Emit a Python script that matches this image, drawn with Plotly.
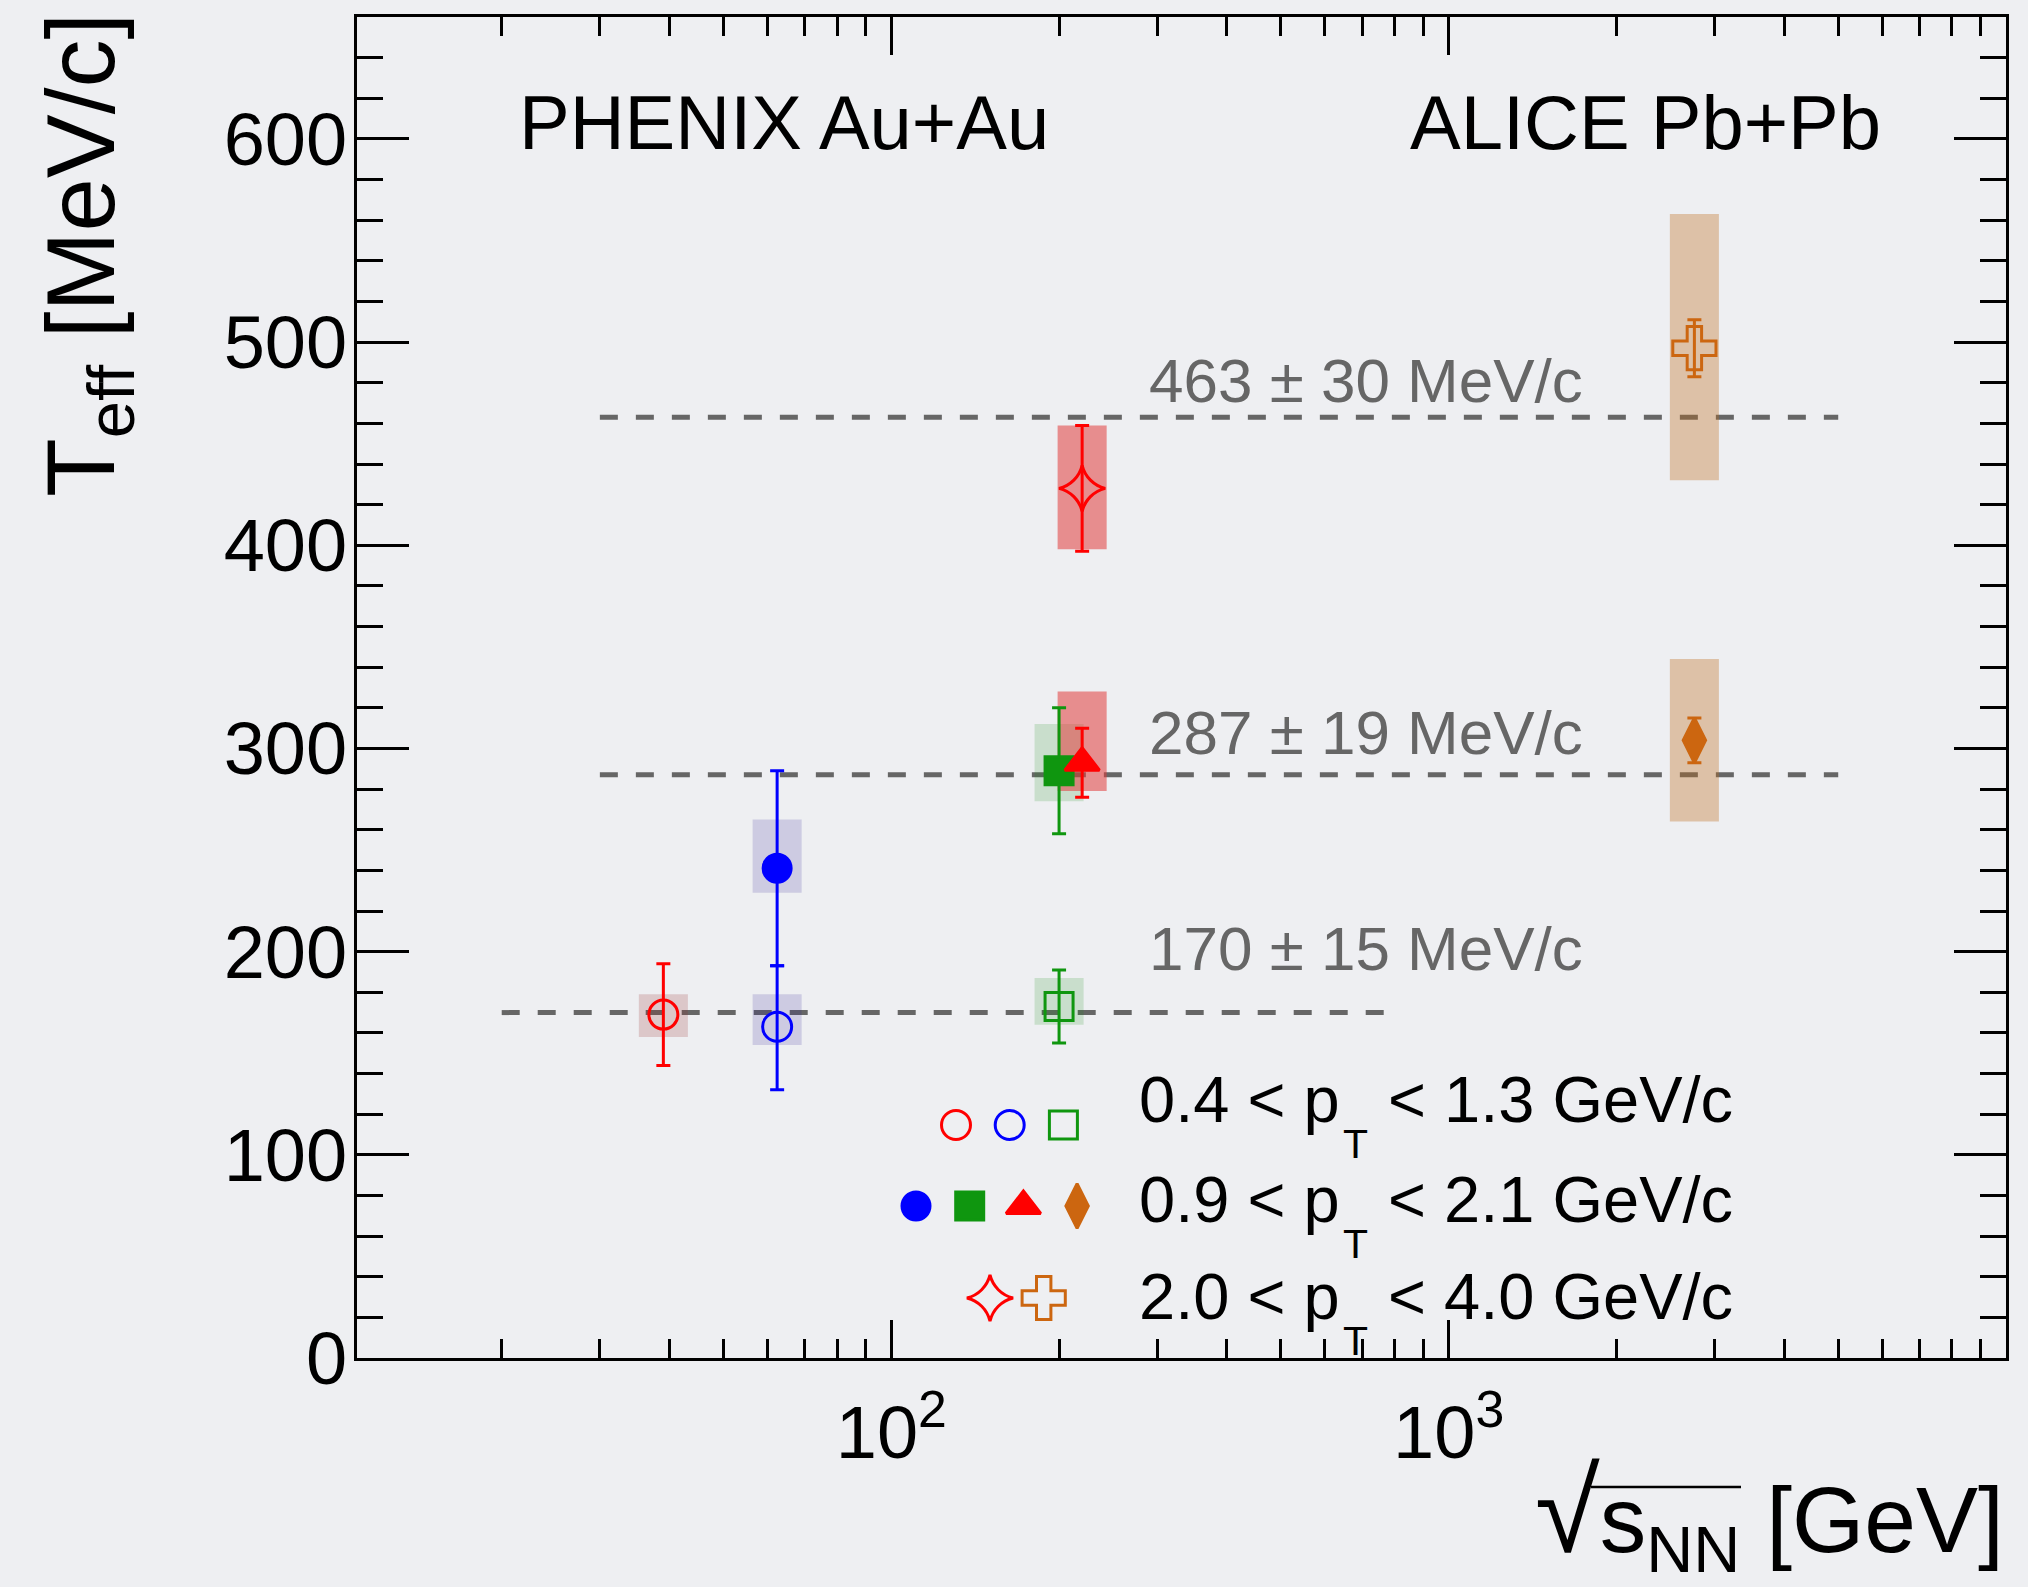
import math
import plotly.graph_objects as go

# ---------------------------------------------------------------- data
# Effective temperature of the direct-photon spectra vs. collision energy.
# The two 200 GeV points of the highest pT bins are drawn slightly offset (220).
sqrt_s_nn  = [39.0, 62.4, 62.4, 200.0, 200.0, 220.0, 220.0, 2760.0, 2760.0]
t_eff      = [169, 163, 241, 173, 289, 293, 428, 497, 304]
stat_plus  = [25, 30, 48, 18, 31, 17, 31, 14, 11]
stat_minus = [25, 31, 48, 18, 31, 17, 31, 14, 11]
sys_low    = [158, 154, 229, 164, 274, 279, 398, 432, 264]
sys_high   = [179, 179, 265, 187, 312, 328, 459, 563, 344]
pt_bin     = [0, 0, 1, 0, 1, 1, 2, 2, 1]

pt_bin_edges = [("0.4", "1.3"), ("0.9", "2.1"), ("2.0", "4.0")]

# constant fits per pT bin
fit_value = [463, 287, 170]
fit_error = [30, 19, 15]
fit_from  = [30, 30, 20]
fit_to    = [5000, 5000, 800]

x_tick_vals = [100, 1000]
x_tick_text = ["10<sup>2</sup>", "10<sup>3</sup>"]
x_minor_vals = [m * 10 ** d for d in (1, 2, 3) for m in range(2, 10)]

experiments = ["PHENIX Au+Au", "ALICE Pb+Pb"]

# ---------------------------------------------------------------- style
RED, BLUE, GREEN, ORANGE = "#ff0000", "#0000ff", "#0f960f", "#cc6610"
marker_symbol = ["circle-open", "circle-open", "circle", "square-open", "square",
                 "triangle-up", "star-diamond-open", "cross-open", "diamond-tall"]
marker_color = [RED, BLUE, BLUE, GREEN, GREEN, RED, RED, ORANGE, ORANGE]
marker_size = [29, 29, 28, 28, 28, 30, 33, 36, 32]
box_color = ["rgba(150,40,40,0.20)", "rgba(40,30,150,0.17)", "rgba(40,30,150,0.17)",
             "rgba(20,140,20,0.17)", "rgba(20,140,20,0.17)", "rgba(225,60,60,0.55)",
             "rgba(225,60,60,0.55)", "rgba(190,110,30,0.35)", "rgba(190,110,30,0.35)"]
BOX_HALF_DECADES = 0.044

FONT = "Liberation Sans, Arial, Helvetica, sans-serif"
BG = "#eeeff2"
W, H = 2028, 1587
L, R, T, B = 357, 22, 17, 229          # plot frame margins in px
X_RANGE = [math.log10(11), 4.0]
Y_RANGE = [0, 660]


def paper_x(px):
    return (px - L) / (W - L - R)


def paper_y(py):
    return (H - B - py) / (H - T - B)


fig = go.Figure()

# systematic boxes and fit lines (shapes, below the markers)
shapes = []
for v, x0, x1 in zip(fit_value, fit_from, fit_to):
    shapes.append(dict(type="line", xref="x", yref="y", x0=x0, x1=x1, y0=v, y1=v,
                       line=dict(color="#666666", width=5, dash="18px,18px"),
                       layer="below"))
for i in range(len(t_eff)):
    f = 10 ** BOX_HALF_DECADES
    shapes.append(dict(type="rect", xref="x", yref="y",
                       x0=sqrt_s_nn[i] / f, x1=sqrt_s_nn[i] * f,
                       y0=sys_low[i], y1=sys_high[i],
                       fillcolor=box_color[i], line=dict(width=0), layer="below"))

# data points with statistical errors
for i in range(len(t_eff)):
    fig.add_trace(go.Scatter(
        x=[sqrt_s_nn[i]], y=[t_eff[i]], mode="markers",
        marker=dict(symbol=marker_symbol[i], size=marker_size[i], color=marker_color[i],
                    line=dict(color=marker_color[i], width=3)),
        error_y=dict(type="data", symmetric=False, array=[stat_plus[i]],
                     arrayminus=[stat_minus[i]], color=marker_color[i],
                     thickness=3, width=7),
        showlegend=False, hoverinfo="skip"))

# legend: symbols per pT bin (overlay axes in figure pixels)
legend_rows_y = [1125, 1206, 1298]
legend_row_x0 = [956, 916, 990]
LEG_DX = 53.7
for b in range(len(pt_bin_edges)):
    idx = [i for i in range(len(t_eff)) if pt_bin[i] == b]
    for k, i in enumerate(idx):
        fig.add_trace(go.Scatter(
            x=[legend_row_x0[b] + k * LEG_DX], y=[legend_rows_y[b]],
            xaxis="x2", yaxis="y2", mode="markers",
            marker=dict(symbol=marker_symbol[i], size=marker_size[i], color=marker_color[i],
                        line=dict(color=marker_color[i], width=3)),
            showlegend=False, hoverinfo="skip"))

annotations = []


def text(x, y, s, size, color="black", xanchor="left", yanchor="middle", angle=0):
    annotations.append(dict(x=paper_x(x), y=paper_y(y), xref="paper", yref="paper",
                            text=s, showarrow=False,
                            xanchor=xanchor, yanchor=yanchor, textangle=angle,
                            font=dict(family=FONT, size=size, color=color)))


# legend text: "lo < p_T < hi GeV/c"
text_base = [1122, 1222, 1319]
for b, (lo, hi) in enumerate(pt_bin_edges):
    yb = text_base[b]
    text(1137, yb - 0.3465 * 65, f"{lo} &lt; p", 65)
    text(1341, yb + 36 - 0.3465 * 41, "T", 41)
    text(1386, yb - 0.3465 * 65, f"&lt; {hi} GeV/c", 65)

# fit value labels
fit_label_base = [402, 754, 970]
for v, e, yb in zip(fit_value, fit_error, fit_label_base):
    text(1147, yb - 0.3465 * 62, f"{v} ± {e} MeV/c", 62, color="#666666")

# experiment labels
text(517, 149 - 0.3465 * 76, experiments[0], 76)
text(1408, 149 - 0.3465 * 76, experiments[1], 76)

# axis titles
text(88, 11, "T<sub>eff</sub> [MeV/c]", 96, xanchor="center", yanchor="top", angle=-90)
text(2006, 1515, "<span style='font-size:118px'>√</span>s<sub>NN</sub> [GeV]", 93,
     xanchor="right", yanchor="middle")

# overbar of the square root in the x-axis title
shapes.append(dict(type="line", xref="paper", yref="paper",
                   x0=paper_x(1591), x1=paper_x(1741), y0=paper_y(1487), y1=paper_y(1487),
                   line=dict(color="black", width=2.5)))

axis_common = dict(showline=True, linecolor="black", linewidth=3, mirror="allticks",
                   ticks="inside", tickcolor="black", tickwidth=2.5, showgrid=False,
                   zeroline=False, tickfont=dict(family=FONT, size=74, color="black"))

fig.update_layout(
    width=W, height=H,
    margin=dict(l=L, r=R, t=T, b=B, pad=0),
    paper_bgcolor=BG, plot_bgcolor=BG,
    showlegend=False,
    shapes=shapes, annotations=annotations,
    xaxis=dict(type="log", range=X_RANGE, tickmode="array", tickvals=x_tick_vals,
               ticktext=x_tick_text, ticklen=38, ticklabelstandoff=8,
               minor=dict(ticks="inside", tickmode="array", tickvals=x_minor_vals,
                          ticklen=19, tickwidth=2.5, tickcolor="black", showgrid=False),
               **axis_common),
    yaxis=dict(range=Y_RANGE, tick0=0, dtick=100, ticklen=52, ticklabelstandoff=-8,
               minor=dict(ticks="inside", dtick=20, ticklen=26, tickwidth=2.5,
                          tickcolor="black", showgrid=False),
               **axis_common),
    xaxis2=dict(overlaying="x", range=[L, W - R], visible=False, fixedrange=True),
    yaxis2=dict(overlaying="y", range=[H - B, T], visible=False, fixedrange=True),
)

fig.write_html("out.html")
